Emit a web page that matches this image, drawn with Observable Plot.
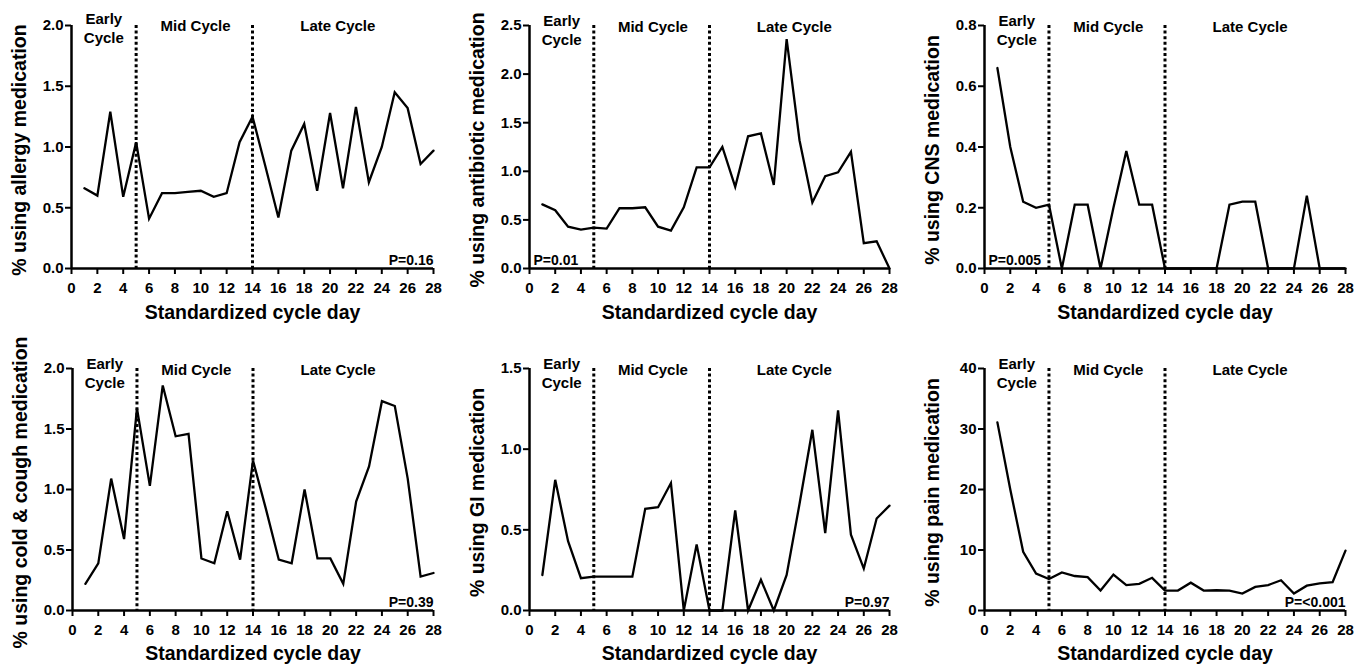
<!DOCTYPE html>
<html><head><meta charset="utf-8">
<script src="https://cdn.jsdelivr.net/npm/d3@7"></script>
<script src="https://cdn.jsdelivr.net/npm/@observablehq/plot@0.6"></script>
<style>
html,body{margin:0;padding:0;background:#fff;}
#wrap{position:relative;width:1368px;height:669px;overflow:hidden;background:#fff;}
.panel{position:absolute;}
.panel svg{overflow:visible;}
</style></head><body><div id="wrap"></div>
<script>
const days = [1,2,3,4,5,6,7,8,9,10,11,12,13,14,15,16,17,18,19,20,21,22,23,24,25,26,27,28];
const xTicks = [0,2,4,6,8,10,12,14,16,18,20,22,24,26,28];
const phaseBounds = [5,14];
const phaseNames = ["Early\nCycle","Mid Cycle","Late Cycle"];
const phaseCenters = [2.5,9.6,20.6];
const xTitle = "Standardized cycle day";

const allergy = [0.66,0.60,1.29,0.59,1.04,0.41,0.62,0.62,0.63,0.64,0.59,0.62,1.04,1.25,0.84,0.42,0.97,1.19,0.64,1.28,0.66,1.33,0.71,1.00,1.45,1.32,0.86,0.97];
const antibiotic = [0.66,0.60,0.43,0.40,0.42,0.41,0.62,0.62,0.63,0.43,0.39,0.63,1.04,1.04,1.25,0.84,1.36,1.39,0.86,2.36,1.32,0.68,0.95,0.99,1.20,0.26,0.28,0.00];
const cns = [0.66,0.40,0.22,0.20,0.21,0.00,0.21,0.21,0.00,0.20,0.387,0.21,0.21,0.00,0.00,0.00,0.00,0.00,0.21,0.22,0.22,0.00,0.00,0.00,0.24,0.00,0.00,0.00];
const coldCough = [0.22,0.39,1.09,0.59,1.67,1.03,1.86,1.44,1.46,0.43,0.39,0.82,0.42,1.24,0.84,0.42,0.39,1.00,0.43,0.43,0.22,0.90,1.19,1.73,1.69,1.09,0.28,0.31];
const gi = [0.22,0.81,0.43,0.20,0.21,0.21,0.21,0.21,0.63,0.64,0.79,0.00,0.41,0.00,0.00,0.62,0.00,0.19,0.00,0.22,0.66,1.12,0.48,1.24,0.47,0.26,0.57,0.65];
const pain = [31.1,20.0,9.7,6.1,5.2,6.3,5.7,5.5,3.3,5.95,4.2,4.4,5.4,3.3,3.3,4.6,3.3,3.35,3.3,2.8,3.9,4.2,5.0,2.8,4.1,4.5,4.7,9.9];

const yLabels = ["% using allergy medication","% using antibiotic medication","% using CNS medication","% using cold & cough medication","% using GI medication","% using pain medication"];
const yTicksAllergy = [0,0.5,1.0,1.5,2.0];
const yTicksAntibiotic = [0,0.5,1.0,1.5,2.0,2.5];
const yTicksCns = [0,0.2,0.4,0.6,0.8];
const yTicksCold = [0,0.5,1.0,1.5,2.0];
const yTicksGi = [0,0.5,1.0,1.5];
const yTicksPain = [0,10,20,30,40];
const pValues = ["P=0.16","P=0.01","P=0.005","P=0.39","P=0.97","P=<0.001"];

const FONT = "'Liberation Sans', Arial, Helvetica, sans-serif";

const panels = [
  {values: allergy, ticks: yTicksAllergy, fmt: ".1f", label: yLabels[0], p: pValues[0], pLeft: false, col: 0, row: 0, ml: 71, earlyDy: -15, midDy: -5},
  {values: antibiotic, ticks: yTicksAntibiotic, fmt: ".1f", label: yLabels[1], p: pValues[1], pLeft: true, col: 1, row: 0, ml: 73, earlyDy: -13, midDy: -4},
  {values: cns, ticks: yTicksCns, fmt: ".1f", label: yLabels[2], p: pValues[2], pLeft: true, col: 2, row: 0, ml: 72, earlyDy: -13, midDy: -4},
  {values: coldCough, ticks: yTicksCold, fmt: ".1f", label: yLabels[3], p: pValues[3], pLeft: false, col: 0, row: 1, ml: 72, earlyDy: -13, midDy: -4},
  {values: gi, ticks: yTicksGi, fmt: ".1f", label: yLabels[4], p: pValues[4], pLeft: false, col: 1, row: 1, ml: 73, earlyDy: -13, midDy: -4},
  {values: pain, ticks: yTicksPain, fmt: "d", label: yLabels[5], p: pValues[5], pLeft: false, col: 2, row: 1, ml: 72, earlyDy: -13, midDy: -4}
];

const rows = [
  {top: 0, height: 330, mt: 25, mb: 62, titleDy: 37},
  {top: 335, height: 334, mt: 33, mb: 59, titleDy: 36}
];

const wrap = document.getElementById("wrap");

for (const pn of panels) {
  const r = rows[pn.row];
  const ymax = pn.ticks[pn.ticks.length - 1];
  const data = days.map((d, i) => ({day: d, v: pn.values[i]}));
  const chart = Plot.plot({
    width: 456,
    height: r.height,
    marginLeft: pn.ml,
    marginRight: 23,
    marginTop: r.mt,
    marginBottom: r.mb,
    style: {fontFamily: FONT, fontWeight: "bold", fontSize: "15px", color: "#000", background: "transparent"},
    x: {domain: [0, 28]},
    y: {domain: [0, ymax]},
    marks: [
      Plot.ruleX(phaseBounds, {stroke: "#000", strokeWidth: 3, strokeDasharray: "3,2.6"}),
      Plot.line(data, {x: "day", y: "v", stroke: "#000", strokeWidth: 2.3, strokeLinejoin: "miter", strokeMiterlimit: 4}),
      Plot.ruleY([0], {stroke: "#000", strokeWidth: 2.5}),
      Plot.ruleX([0], {stroke: "#000", strokeWidth: 2.5}),
      Plot.axisX({ticks: xTicks, tickSize: 6, tickPadding: 8, strokeWidth: 2, fontSize: 15, fontWeight: "bold", letterSpacing: "0.3px", label: null, tickFormat: d3.format("d")}),
      Plot.axisY({ticks: pn.ticks, tickSize: 6, tickPadding: 2, strokeWidth: 2, fontSize: 15, fontWeight: "bold", letterSpacing: "0.3px", label: null, tickFormat: d3.format(pn.fmt)}),
      Plot.text([phaseNames[0]], {x: phaseCenters[0], y: ymax, text: d => d, lineAnchor: "top", lineHeight: 1.25, dy: pn.earlyDy, fontSize: 15, fontWeight: "bold", letterSpacing: "0.5px"}),
      Plot.text([phaseNames[1], phaseNames[2]], {x: (d, i) => phaseCenters[i + 1], y: ymax, text: d => d, lineAnchor: "top", dy: pn.midDy, fontSize: 15, fontWeight: "bold", letterSpacing: "0.6px"}),
      Plot.text([pn.p], {x: pn.pLeft ? 0 : 28, y: 0, text: d => d, textAnchor: pn.pLeft ? "start" : "end", dx: pn.pLeft ? 4 : 0, lineAnchor: "top", dy: -13, fontSize: 14, fontWeight: "bold", letterSpacing: "0.7px"}),
      Plot.text([xTitle], {frameAnchor: "bottom", textAnchor: "middle", text: d => d, lineAnchor: "top", dy: r.titleDy, fontSize: 19.5, fontWeight: "bold"}),
      Plot.text([pn.label], {frameAnchor: "left", textAnchor: "middle", lineAnchor: "middle", text: d => d, rotate: -90, dx: -52, dy: 3, fontSize: 19.5, fontWeight: "bold"})
    ]
  });
  const div = document.createElement("div");
  div.className = "panel";
  div.style.left = (pn.col * 456) + "px";
  div.style.top = r.top + "px";
  div.appendChild(chart);
  wrap.appendChild(div);
}
</script>
</body></html>
